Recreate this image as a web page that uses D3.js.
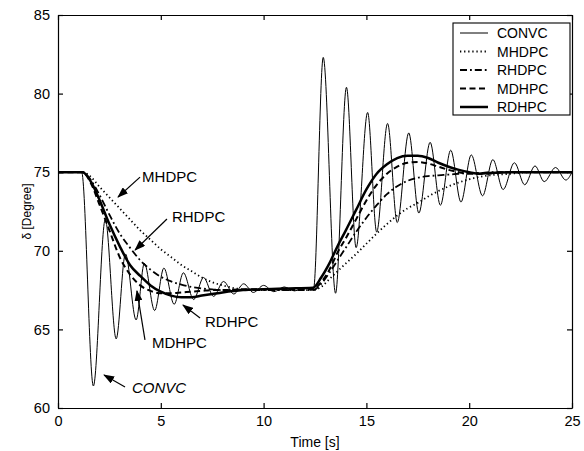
<!DOCTYPE html>
<html>
<head>
<meta charset="utf-8">
<script src="https://cdn.jsdelivr.net/npm/d3@7"></script>
<style>
  body { margin: 0; background: #fff; }
  text { font-family: Arial, "Liberation Sans", sans-serif; fill: #000; }
</style>
</head>
<body>
<div id="chart"></div>
<script>
// ---- data ----
// CONVC: oscillating response, sampled at its peaks / troughs
var convcT = [0, 1.15, 1.72, 2.3, 2.83, 3.28, 3.8, 4.2, 4.7, 5.15, 5.65, 6.1, 6.6, 7.08, 7.57, 8.05, 8.55, 9.03, 9.5, 10.0, 10.5, 11.0, 11.5, 12.0, 12.43,
              12.9, 13.5, 14.03, 14.5, 15.06, 15.5, 16.03, 16.5, 17.06, 17.55, 18.1, 18.6, 19.1, 19.6, 20.1, 20.65, 21.15, 21.65, 22.2, 22.7, 23.2, 23.65, 24.2, 24.7, 25];
var convcV = [75, 75, 61.4, 72.0, 64.4, 69.8, 65.6, 69.2, 66.2, 68.9, 66.6, 68.6, 66.9, 68.3, 67.1, 68.05, 67.25, 67.9, 67.35, 67.8, 67.4, 67.7, 67.45, 67.65, 67.6,
              82.3, 67.3, 80.4, 70.2, 78.8, 71.2, 78.1, 71.8, 77.5, 72.4, 76.9, 72.9, 76.4, 73.1, 76.1, 73.5, 75.8, 73.9, 75.6, 74.2, 75.4, 74.4, 75.3, 74.5, 75.0];

// smooth controllers share one time grid
var smoothT = [0, 1.2, 1.6, 2.0, 2.5, 3.0, 3.5, 4.0, 4.5, 5.0, 5.5, 6.0, 6.5, 7.0, 7.5, 8.0, 9.0, 10.0, 11.0, 12.4,
               12.8, 13.2, 13.6, 14.0, 14.5, 15.0, 15.5, 16.0, 16.5, 17.0, 17.5, 18.0, 18.5, 19.0, 19.5, 20.0, 20.5, 21.0, 22.0, 23.0, 25.0];
var mhdpcV = [75, 75, 74.7, 74.1, 73.4, 72.7, 72.0, 71.3, 70.7, 70.1, 69.6, 69.1, 68.7, 68.3, 68.0, 67.8, 67.55, 67.5, 67.5, 67.5,
              67.7, 68.2, 68.7, 69.2, 69.8, 70.45, 71.1, 71.7, 72.25, 72.7, 73.05, 73.45, 73.8, 74.1, 74.35, 74.55, 74.7, 74.8, 74.9, 75.0, 75.0];
var rhdpcV = [75, 75, 74.5, 73.6, 72.3, 71.1, 70.2, 69.4, 68.8, 68.35, 68.05, 67.85, 67.7, 67.6, 67.55, 67.5, 67.5, 67.5, 67.5, 67.5,
              67.9, 68.6, 69.4, 70.2, 71.2, 72.1, 72.9, 73.6, 74.1, 74.45, 74.65, 74.75, 74.8, 74.85, 74.9, 74.95, 74.95, 75.0, 75.0, 75.0, 75.0];
var mdhpcV = [75, 75, 74.3, 73.0, 71.3, 69.6, 68.5, 67.8, 67.45, 67.3, 67.3, 67.35, 67.4, 67.45, 67.5, 67.5, 67.55, 67.55, 67.55, 67.55,
              68.0, 68.8, 69.9, 70.8, 72.0, 73.2, 74.2, 74.9, 75.35, 75.6, 75.65, 75.55, 75.35, 75.15, 75.0, 74.9, 74.9, 74.92, 75.0, 75.0, 75.0];
var rdhpcV = [75, 75, 74.4, 73.3, 71.7, 70.3, 69.1, 68.4, 67.8, 67.4, 67.15, 67.05, 67.05, 67.15, 67.25, 67.35, 67.5, 67.55, 67.6, 67.65,
              68.3, 69.2, 70.3, 71.3, 72.6, 73.9, 74.9, 75.5, 75.9, 76.05, 76.05, 75.9, 75.6, 75.35, 75.15, 75.0, 74.9, 74.95, 75.0, 75.0, 75.0];

var seriesNames = ["CONVC", "MHDPC", "RHDPC", "MDHPC", "RDHPC"];
var xTicks = [0, 5, 10, 15, 20, 25];
var yTicks = [60, 65, 70, 75, 80, 85];

// annotation labels: text anchor, arrow start, arrow tip (data units)
var annoText  = ["MHDPC", "RHDPC", "RDHPC", "MDHPC", "CONVC"];
var annoAt    = [[4.09, 74.38], [5.54, 71.83], [7.15, 65.15], [4.57, 63.82], [3.6, 60.95]];
var annoFrom  = [[3.99, 74.69], [5.30, 72.02], [6.91, 65.73], [4.23, 64.33], [3.26, 61.34]];
var annoTip   = [[2.92, 73.42], [3.75, 70.05], [6.08, 66.55], [3.84, 67.45], [2.24, 62.1]];

// ---- layout ----
var W = 584, H = 451;
var margin = {top: 15, right: 12, bottom: 43, left: 58};

var svg = d3.select('#chart')
  .append('svg')
    .attr('width', W)
    .attr('height', H);

var x = d3.scaleLinear().domain([0, 25]).range([margin.left, W - margin.right]);
var y = d3.scaleLinear().domain([60, 85]).range([H - margin.bottom, margin.top]);

// styles per series
var styles = {
  CONVC: {width: 1.0, dash: null},
  MHDPC: {width: 1.8, dash: "1.3,2.8"},
  RHDPC: {width: 1.8, dash: "7,3,1.8,3"},
  MDHPC: {width: 2.0, dash: "6,3.5"},
  RDHPC: {width: 2.5, dash: null}
};

function pairs(ts, vs) {
  return ts.map(function(t, i) { return [t, vs[i]]; });
}
var series = {
  CONVC: pairs(convcT, convcV),
  MHDPC: pairs(smoothT, mhdpcV),
  RHDPC: pairs(smoothT, rhdpcV),
  MDHPC: pairs(smoothT, mdhpcV),
  RDHPC: pairs(smoothT, rdhpcV)
};

var line = d3.line()
  .x(function(d) { return x(d[0]); })
  .y(function(d) { return y(d[1]); })
  .curve(d3.curveMonotoneX);

var plot = svg.append("g");
seriesNames.forEach(function(name) {
  plot.append("path")
    .datum(series[name])
    .attr("d", line)
    .attr("fill", "none")
    .attr("stroke", "#000")
    .attr("stroke-width", styles[name].width)
    .attr("stroke-dasharray", styles[name].dash);
});

// ---- axes (inward ticks on all four sides) ----
var xb = svg.append("g")
  .attr("transform", `translate(0,${y(60)})`)
  .call(d3.axisBottom(x).tickValues(xTicks).tickSizeInner(-5).tickSizeOuter(0).tickPadding(8));
var xt = svg.append("g")
  .attr("transform", `translate(0,${y(85)})`)
  .call(d3.axisTop(x).tickValues(xTicks).tickSizeInner(-5).tickSizeOuter(0).tickFormat(""));
var yl = svg.append("g")
  .attr("transform", `translate(${x(0)},0)`)
  .call(d3.axisLeft(y).tickValues(yTicks).tickSizeInner(-5).tickSizeOuter(0).tickPadding(8));
var yr = svg.append("g")
  .attr("transform", `translate(${x(25)},0)`)
  .call(d3.axisRight(y).tickValues(yTicks).tickSizeInner(-5).tickSizeOuter(0).tickFormat(""));

svg.selectAll(".domain, .tick line").attr("stroke", "#000").attr("stroke-width", 1.2);
svg.selectAll(".tick text")
  .style("font-size", "14.5px")
  .style("font-family", "Arial, 'Liberation Sans', sans-serif")
  .attr("fill", "#000");

// axis titles
svg.append("text")
  .attr("x", (x(0) + x(25)) / 2)
  .attr("y", 447)
  .attr("text-anchor", "middle")
  .style("font-size", "14px")
  .text("Time [s]");

svg.append("text")
  .attr("transform", `translate(31,${(y(60) + y(85)) / 2}) rotate(-90)`)
  .attr("text-anchor", "middle")
  .style("font-size", "12px")
  .text("δ [Degree]");

// ---- legend ----
var legend = svg.append("g");
legend.append("rect")
  .attr("x", 453).attr("y", 23)
  .attr("width", 117).attr("height", 92)
  .attr("fill", "#fff")
  .attr("stroke", "#000")
  .attr("stroke-width", 1.1);

seriesNames.forEach(function(name, i) {
  var ly = 33 + i * 18.5;
  legend.append("line")
    .attr("x1", 460).attr("x2", 488)
    .attr("y1", ly).attr("y2", ly)
    .attr("stroke", "#000")
    .attr("stroke-width", styles[name].width)
    .attr("stroke-dasharray", styles[name].dash);
  legend.append("text")
    .attr("x", 497).attr("y", ly)
    .attr("dy", "0.36em")
    .style("font-size", "14px")
    .text(name);
});

// ---- annotations with arrows ----
svg.append("defs").append("marker")
    .attr("id", "arrow")
    .attr("markerUnits", "userSpaceOnUse")
    .attr("markerWidth", 11).attr("markerHeight", 8)
    .attr("refX", 10).attr("refY", 4)
    .attr("orient", "auto")
  .append("path")
    .attr("d", "M0,0 L11,4 L0,8 Z")
    .attr("fill", "#000");

annoText.forEach(function(label, i) {
  svg.append("line")
    .attr("x1", x(annoFrom[i][0])).attr("y1", y(annoFrom[i][1]))
    .attr("x2", x(annoTip[i][0])).attr("y2", y(annoTip[i][1]))
    .attr("stroke", "#000")
    .attr("stroke-width", 1.2)
    .attr("marker-end", "url(#arrow)");
  svg.append("text")
    .attr("x", x(annoAt[i][0])).attr("y", y(annoAt[i][1]))
    .style("font-size", "15px")
    .style("font-style", label == "CONVC" ? "italic" : "normal")
    .text(label);
});
</script>
</body>
</html>
